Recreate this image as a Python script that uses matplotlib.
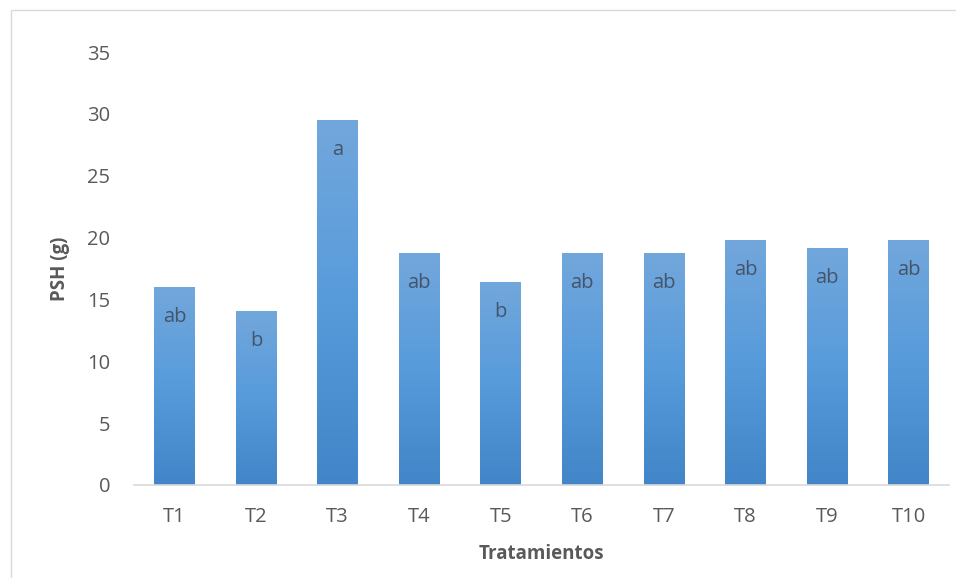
import numpy as np
import matplotlib.pyplot as plt
from matplotlib.patches import Rectangle
from matplotlib.colors import LinearSegmentedColormap

plt.rcParams['font.family'] = ['Open Sans', 'DejaVu Sans']

treatments = ['T1', 'T2', 'T3', 'T4', 'T5', 'T6', 'T7', 'T8', 'T9', 'T10']
psh = [16.0, 14.0, 29.5, 18.75, 16.4, 18.7, 18.75, 19.8, 19.1, 19.8]
letters = ['ab', 'b', 'a', 'ab', 'b', 'ab', 'ab', 'ab', 'ab', 'ab']

fig = plt.figure(figsize=(9.56, 5.78), dpi=100)
ax = fig.add_axes([0.140, 0.161, 0.853, 0.749])

# frame around the chart area
fig.patches.append(Rectangle((0.011, -0.02), 1.0, 1.003, transform=fig.transFigure,
                             fill=False, edgecolor='#D9D9D9', lw=1))

x = np.arange(len(treatments))
width = 0.5
bars = ax.bar(x, psh, width=width, color='none', edgecolor='none')

cmap = LinearSegmentedColormap.from_list('grad', ['#4285C8', '#579BDB', '#72A7DC'])
grad = np.linspace(0, 1, 256).reshape(-1, 1)
for b in bars:
    x0, h = b.get_x(), b.get_height()
    ax.imshow(grad, cmap=cmap, origin='lower', aspect='auto',
              extent=[x0, x0 + width, 0, h], zorder=2)

for xi, v, lab in zip(x, psh, letters):
    ax.text(xi, v - 2.4, lab, ha='center', va='center', fontsize=14.5,
            color='#44546A', zorder=3)

ax.set_xlim(-0.5, len(treatments) - 0.5)
ax.set_ylim(0, 35)
ax.set_yticks(range(0, 36, 5))
ax.set_xticks(x)
ax.set_xticklabels(treatments)

for s in ['top', 'right', 'left']:
    ax.spines[s].set_visible(False)
ax.spines['bottom'].set_color('#D9D9D9')
ax.spines['bottom'].set_linewidth(1.2)
ax.tick_params(length=0, labelsize=14.5, labelcolor='#595959')
ax.tick_params(axis='y', pad=17)
ax.tick_params(axis='x', pad=16)

ax.set_ylabel('PSH (g)', fontsize=13.5, fontweight='bold', color='#595959', labelpad=12)
ax.set_xlabel('Tratamientos', fontsize=13.5, fontweight='bold', color='#595959', labelpad=12)

fig.savefig('out.png', dpi=100)
